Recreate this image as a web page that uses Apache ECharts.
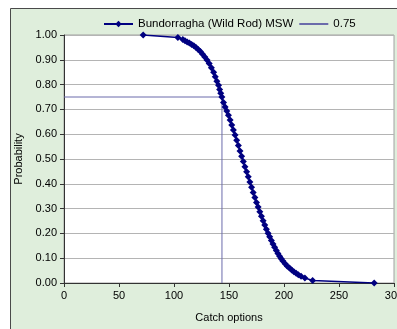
<!DOCTYPE html>
<html><head><meta charset="utf-8">
<script src="https://cdn.jsdelivr.net/npm/echarts@6/dist/echarts.min.js"></script>
<style>html,body{margin:0;padding:0;background:#fff}#c{width:397px;height:329px}</style>
</head><body><div id="c"></div>
<script>
const seriesName = 'Bundorragha (Wild Rod) MSW';
const refName = '0.75';
const catchOptions = [72,103.5,108,110,112,114,116,118,120,122,124,126,128,130,132,134,136,137.5,139,140.5,141.5,142.5,143.5,145,146.5,148,149.5,151,152.5,154,155.5,157,158.5,160,161.5,163,164.5,166,167.5,169,170.5,172,173.5,175,176.5,178,179.5,181,182.5,184,185.5,187,188.5,190,191.5,193,194.5,196,197.5,199,201,203,205,207,209,211,213,215.5,219,226,282];
const probability = [1.000,0.990,0.982,0.977,0.972,0.968,0.962,0.957,0.950,0.942,0.933,0.922,0.911,0.899,0.885,0.868,0.850,0.832,0.814,0.797,0.780,0.765,0.750,0.728,0.710,0.694,0.676,0.657,0.637,0.617,0.597,0.576,0.554,0.532,0.511,0.490,0.469,0.449,0.428,0.407,0.386,0.365,0.345,0.325,0.306,0.287,0.269,0.251,0.234,0.217,0.201,0.186,0.171,0.157,0.144,0.131,0.119,0.108,0.098,0.089,0.078,0.068,0.060,0.052,0.045,0.039,0.033,0.027,0.020,0.010,0.000];
const refX = [0,143.6,143.6];
const refY = [0.75,0.75,0];
const xTicks = {min:0,max:300,interval:50};
const yTicks = {min:0,max:1,interval:0.1};

const chart = echarts.init(document.getElementById('c'), null, {renderer:'canvas'});
const font = 'Liberation Sans, Arial, sans-serif';
chart.setOption({
  animation:false,
  backgroundColor:'#fff',
  graphic:[{type:'rect',z:-10,shape:{x:10.5,y:8.5,width:500,height:500},style:{fill:'#dfeedc',stroke:'#4a4a4a',lineWidth:1}}],
  textStyle:{fontFamily:font},
  legend:{top:13,left:103,padding:[5,5,5,0],itemWidth:29,itemHeight:8,itemGap:5,
    textStyle:{fontFamily:font,fontSize:11.5,color:'#000'},
    data:[{name:seriesName},{name:refName,itemStyle:{opacity:0}}]},
  grid:{left:64,top:35,right:3,bottom:46,show:true,backgroundColor:'#fff',borderColor:'#a0a0a0',borderWidth:1,
    containLabel:false,outerBoundsMode:'none'},
  xAxis:{type:'value',min:xTicks.min,max:xTicks.max,interval:xTicks.interval,
    name:'Catch options',nameLocation:'middle',nameGap:29,
    nameTextStyle:{fontFamily:font,fontSize:11,color:'#000'},
    axisLine:{lineStyle:{color:'#333',width:1}},axisTick:{show:true,length:4,lineStyle:{color:'#333'}},
    axisLabel:{fontFamily:font,fontSize:11,color:'#000',margin:7,showMaxLabel:true},splitLine:{show:false}},
  yAxis:{type:'value',min:yTicks.min,max:yTicks.max,interval:yTicks.interval,
    name:'Probability',nameLocation:'middle',nameGap:40,nameRotate:90,
    nameTextStyle:{fontFamily:font,fontSize:11,color:'#000'},
    axisLine:{show:true,lineStyle:{color:'#333',width:1}},axisTick:{show:true,length:4,lineStyle:{color:'#333'}},
    axisLabel:{fontFamily:font,fontSize:11,color:'#000',margin:7,formatter:v=>v.toFixed(2)},
    splitLine:{show:true,lineStyle:{color:'#b4b4b4',width:1}}},
  series:[
    {name:seriesName,type:'line',data:catchOptions.map((x,i)=>[x,probability[i]]),
      symbol:'diamond',symbolSize:7,showAllSymbol:true,
      lineStyle:{color:'#000080',width:1.5},itemStyle:{color:'#000080'},z:3},
    {name:refName,type:'line',data:refX.map((x,i)=>[x,refY[i]]),symbol:'none',
      lineStyle:{color:'#6b6bab',width:1},itemStyle:{color:'#6b6bab'},z:2}
  ]
});
</script></body></html>
